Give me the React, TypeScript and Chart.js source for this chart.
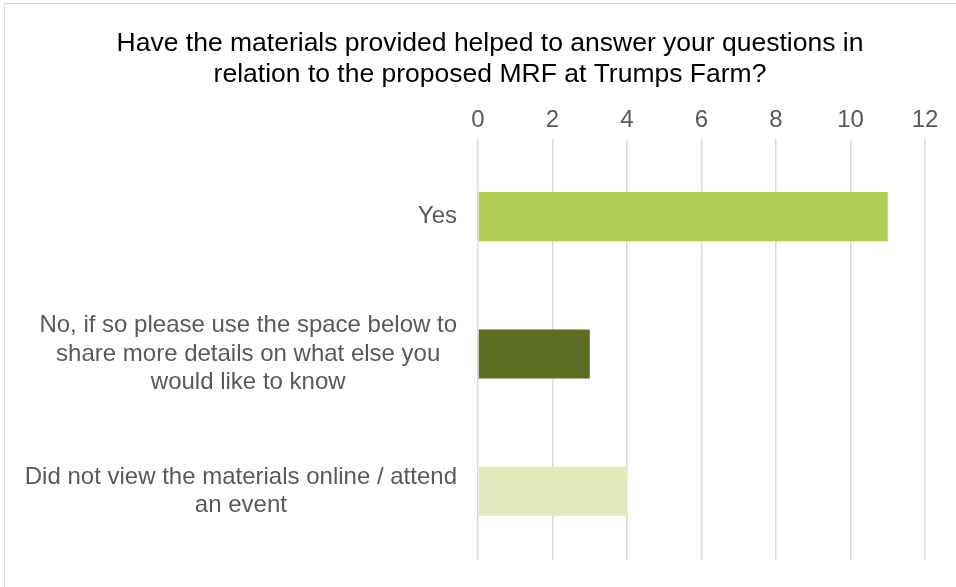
import React, { useEffect, useRef } from "react";
import { Chart, registerables } from "chart.js";

Chart.register(...registerables);

const titleLines = [
  "Have the materials provided helped to answer your questions in",
  "relation to the proposed MRF at Trumps Farm?",
];
const categories: string[][] = [
  ["Yes"],
  [
    "No, if so please use the space below to",
    "share more details on what else you",
    "would like to know",
  ],
  ["Did not view the materials online / attend", "an event"],
];
const values = [11, 3, 4];
const xMin = 0;
const xMax = 12;
const xStep = 2;

const barColors = ["#b0cb56", "#5b6e21", "#e0eabd"];
const FONT = "'Liberation Sans', Arial, sans-serif";

const categoryLabelPlugin = {
  id: "categoryLabels",
  afterDraw(chart: any) {
    const ctx = chart.ctx;
    const yScale = chart.scales.y;
    const rightEdge = chart.chartArea.left - 21;
    const lh = 28.8;
    ctx.save();
    ctx.font = `24px ${FONT}`;
    ctx.fillStyle = "#595959";
    ctx.textAlign = "center";
    ctx.textBaseline = "middle";
    categories.forEach((lines, i) => {
      const y = yScale.getPixelForValue(i);
      const widest = Math.max(...lines.map((l) => ctx.measureText(l).width));
      const cx = rightEdge - widest / 2;
      lines.forEach((line, j) => {
        ctx.fillText(line, cx, y + (j - (lines.length - 1) / 2) * lh);
      });
    });
    ctx.restore();
  },
};

export default function App() {
  const ref = useRef<HTMLCanvasElement | null>(null);
  useEffect(() => {
    if (!ref.current) return;
    const chart = new Chart(ref.current, {
      type: "bar",
      data: {
        labels: categories as any,
        datasets: [
          {
            data: values,
            backgroundColor: barColors,
            borderWidth: 0,
            barPercentage: 0.357,
            categoryPercentage: 1,
          },
        ],
      },
      options: {
        indexAxis: "y",
        animation: false,
        responsive: false,
        devicePixelRatio: 1,
        layout: { padding: { left: 55, right: 31, top: 28.5, bottom: 27 } },
        plugins: {
          legend: { display: false },
          tooltip: { enabled: false },
          title: {
            display: true,
            text: titleLines,
            color: "#000000",
            font: { family: FONT, size: 26.5, weight: "normal", lineHeight: 1.15 },
            padding: { top: 0, bottom: 12.7 },
          },
        },
        scales: {
          x: {
            position: "top",
            min: xMin,
            max: xMax,
            ticks: {
              stepSize: xStep,
              color: "#595959",
              font: { family: FONT, size: 24, lineHeight: 1.2 },
              padding: 4,
            },
            grid: {
              color: "#d9d9d9",
              lineWidth: 1.5,
              drawTicks: true,
              tickLength: 9,
              tickColor: "#d9d9d9",
            },
            border: { display: false },
          },
          y: {
            ticks: { display: false },
            grid: { display: false, drawTicks: false },
            border: { display: false },
            afterFit(scale: any) {
              scale.width = 423;
            },
          },
        },
      },
      plugins: [categoryLabelPlugin],
    } as any);
    return () => chart.destroy();
  }, []);

  return (
    <div style={{ position: "fixed", left: 0, top: 0, width: 956, height: 587, background: "#fff" }}>
      <div
        style={{
          position: "absolute",
          left: 4,
          top: 3,
          width: 970,
          height: 600,
          borderLeft: "1px solid #d9d9d9",
          borderTop: "1px solid #d9d9d9",
        }}
      />
      <canvas
        ref={ref}
        width={956}
        height={587}
        style={{ position: "absolute", left: 0, top: 0, width: 956, height: 587 }}
      />
    </div>
  );
}
